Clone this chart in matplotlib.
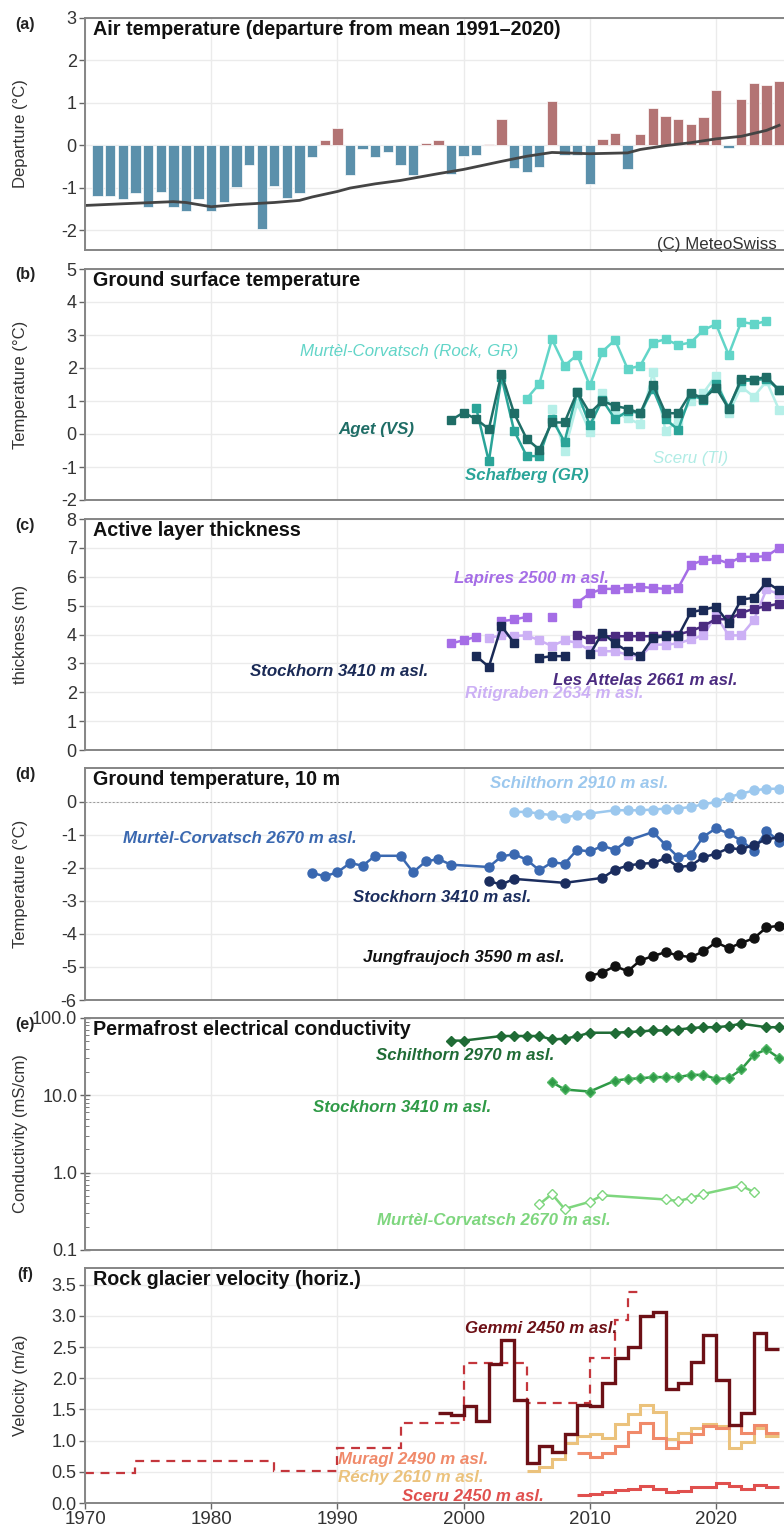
import numpy as np
import matplotlib
matplotlib.use("Agg")
import matplotlib.pyplot as plt
from matplotlib.ticker import FormatStrFormatter, LogLocator, NullFormatter

plt.rcParams['font.family'] = ['Liberation Sans', 'DejaVu Sans']
plt.rcParams['axes.unicode_minus'] = False

# ---------------- data ----------------
# (a) air temperature departure, 1971-2025
air_years = np.arange(1971, 2026)
air_dep = [-1.20, -1.20, -1.27, -1.13, -1.46, -1.10, -1.46, -1.54, -1.26, -1.54,
           -1.35, -0.99, -0.47, -1.98, -0.95, -1.24, -1.12, -0.28, 0.12, 0.41,
           -0.69, -0.09, -0.28, -0.15, -0.46, -0.69, 0.05, 0.12, -0.67, -0.26,
           -0.22, 0.02, 0.61, -0.54, -0.64, -0.52, 1.04, -0.24, -0.24, -0.91,
           0.15, 0.29, -0.56, 0.27, 0.87, 0.70, 0.62, 0.50, 0.67, 1.30,
           -0.06, 1.10, 1.47, 1.42, 1.51]
smooth_years = [1970, 1973, 1977, 1978, 1980, 1982, 1985, 1987, 1988, 1990, 1991,
                1993, 1995, 1998, 2000, 2003, 2005, 2007, 2008, 2010, 2013, 2014,
                2016, 2018, 2020, 2022, 2024, 2025]
smooth_vals = [-1.42, -1.38, -1.33, -1.35, -1.45, -1.40, -1.35, -1.30, -1.22, -1.09,
               -1.01, -0.91, -0.83, -0.67, -0.57, -0.38, -0.26, -0.17, -0.18, -0.20,
               -0.18, -0.10, -0.01, 0.06, 0.15, 0.21, 0.35, 0.47]

# (b) ground surface temperature
gst_murtel_years = np.arange(2005, 2025)
gst_murtel = [1.07, 1.52, 2.87, 2.07, 2.40, 1.47, 2.50, 2.85, 1.97, 2.07,
              2.77, 2.87, 2.70, 2.77, 3.15, 3.33, 2.40, 3.40, 3.33, 3.42]
gst_aget_years = np.arange(1999, 2026)
gst_aget = [0.42, 0.65, 0.45, 0.15, 1.83, 0.63, -0.15, -0.47, 0.35, 0.35,
            1.27, 0.63, 1.00, 0.85, 0.77, 0.63, 1.50, 0.63, 0.63, 1.25,
            1.07, 1.40, 0.77, 1.67, 1.65, 1.73, 1.33]
gst_schaf_years = np.arange(2001, 2026)
gst_schaf = [0.78, -0.83, 1.73, 0.10, -0.67, -0.67, 0.45, -0.23, 1.27, 0.27,
             1.03, 0.45, 0.70, 0.63, 1.37, 0.45, 0.13, 1.20, 1.03, 1.53,
             0.80, 1.60, 1.63, 1.67, 1.33]
gst_sceru_years = np.arange(2007, 2026)
gst_sceru = [0.77, -0.53, 0.93, 0.07, 1.25, 0.67, 0.47, 0.30, 1.87, 0.10,
             0.40, 1.00, 1.25, 1.77, 0.63, 1.43, 1.13, 1.60, 0.73]

# (c) active layer thickness (nan = no measurement)
nan = np.nan
alt_lapires_years = np.arange(1999, 2026)
alt_lapires = [3.69, 3.80, 3.92, nan, 4.46, 4.52, 4.61, nan, 4.61, nan,
               5.10, 5.42, 5.58, 5.58, 5.61, 5.65, 5.61, 5.58, 5.61, 6.42,
               6.57, 6.62, 6.46, 6.69, 6.69, 6.71, 7.00]
alt_stock_years = np.arange(2001, 2026)
alt_stock = [3.25, 2.88, 4.29, 3.71, nan, 3.19, 3.25, 3.25, nan, 3.31,
             4.06, 3.69, 3.42, 3.25, 3.88, 3.94, 3.94, 4.77, 4.86, 4.96,
             4.40, 5.21, 5.27, 5.81, 5.53]
alt_attelas_years = np.arange(2009, 2026)
alt_attelas = [3.97, 3.83, 3.94, 3.94, 3.94, 3.94, 3.94, 3.97, 4.00, 4.12,
               4.29, 4.54, 4.52, 4.75, 4.89, 4.98, 5.07]
alt_riti_years = np.arange(2002, 2026)
alt_riti = [3.88, 3.97, 3.95, 3.97, 3.80, 3.60, 3.80, 3.71, 3.45, 3.42,
            3.42, 3.30, 3.25, 3.65, 3.65, 3.69, 3.83, 3.97, 4.66, 3.97,
            3.97, 4.50, 5.56, 5.40]

# (d) ground temperature at 10 m
gt_schilt_years = [2004, 2005, 2006, 2007, 2008, 2009, 2010, 2012, 2013, 2014, 2015,
                   2016, 2017, 2018, 2019, 2020, 2021, 2022, 2023, 2024, 2025]
gt_schilt = [-0.30, -0.30, -0.35, -0.40, -0.47, -0.40, -0.35, -0.25, -0.25, -0.25, -0.23,
             -0.20, -0.20, -0.15, -0.07, 0.00, 0.15, 0.25, 0.35, 0.40, 0.40]
gt_murtel_years = [1988, 1989, 1990, 1991, 1992, 1993, 1995, 1996, 1997, 1998, 1999,
                   2002, 2003, 2004, 2005, 2006, 2007, 2008, 2009, 2010, 2011, 2012,
                   2013, 2015, 2016, 2017, 2018, 2019, 2020, 2021, 2022, 2023, 2024, 2025]
gt_murtel = [-2.15, -2.25, -2.13, -1.85, -1.93, -1.63, -1.63, -2.13, -1.80, -1.73, -1.90,
             -1.97, -1.65, -1.58, -1.75, -2.07, -1.83, -1.87, -1.45, -1.50, -1.33, -1.45,
             -1.17, -0.91, -1.30, -1.67, -1.60, -1.05, -0.80, -0.95, -1.17, -1.47, -0.87, -1.20]
gt_stock_years = [2002, 2003, 2004, 2008, 2011, 2012, 2013, 2014, 2015, 2016, 2017,
                  2018, 2019, 2020, 2021, 2022, 2023, 2024, 2025]
gt_stock = [-2.40, -2.50, -2.33, -2.45, -2.30, -2.05, -1.93, -1.87, -1.85, -1.70, -1.97,
            -1.93, -1.67, -1.57, -1.40, -1.43, -1.30, -1.13, -1.07]
gt_jungfrau_years = np.arange(2010, 2026)
gt_jungfrau = [-5.27, -5.17, -4.97, -5.13, -4.80, -4.67, -4.55, -4.65, -4.70, -4.53,
               -4.25, -4.43, -4.27, -4.13, -3.80, -3.75]

# (e) electrical conductivity (mS/cm)
ec_schilt_years = [1999, 2000, 2003, 2004, 2005, 2006, 2007, 2008, 2009, 2010, 2012,
                   2013, 2014, 2015, 2016, 2017, 2018, 2019, 2020, 2021, 2022, 2024, 2025]
ec_schilt = [51, 51, 58.5, 58.5, 58.5, 58.5, 52.8, 54, 58, 64.5, 64.5,
             65.8, 67, 69, 69, 71, 74, 76, 76, 78.7, 84.4, 76, 76]
ec_stock_years = [2007, 2008, 2010, 2012, 2013, 2014, 2015, 2016, 2017, 2018, 2019,
                  2020, 2021, 2022, 2023, 2024, 2025]
ec_stock = [14.8, 11.9, 11.2, 15.5, 16.3, 16.6, 17.2, 17.2, 17.2, 18.4, 18.4,
            16.3, 16.6, 21.6, 33.4, 39.3, 30.3]
ec_murtel_years = [2006, 2007, 2008, 2010, 2011, 2016, 2017, 2018, 2019, 2022, 2023]
ec_murtel = [0.39, 0.53, 0.34, 0.42, 0.51, 0.45, 0.43, 0.47, 0.53, 0.68, 0.56]

# (f) rock glacier velocity (m/a), annual steps
rg_dash_edges = [1970, 1974, 1985, 1990, 1995, 2000, 2005, 2010, 2012, 2013, 2014]
rg_dash = [0.48, 0.68, 0.52, 0.88, 1.28, 2.25, 1.61, 2.32, 2.93, 3.38]
rg_gemmi_start = 1998
rg_gemmi = [1.44, 1.41, 1.55, 1.31, 2.23, 2.61, 1.66, 0.64, 0.92, 0.82,
            1.10, 1.58, 1.56, 1.92, 2.33, 2.50, 3.00, 3.06, 1.83, 1.92,
            2.27, 2.69, 1.98, 1.25, 1.45, 2.72, 2.47]
rg_rechy_start = 2005
rg_rechy = [0.51, 0.57, 0.70, 0.96, 1.08, 1.10, 1.05, 1.26, 1.42, 1.58,
            1.46, 1.03, 1.13, 1.21, 1.26, 1.24, 0.89, 0.98, 1.21, 1.07]
rg_muragl_start = 2009
rg_muragl = [0.81, 0.73, 0.80, 0.91, 1.14, 1.29, 1.05, 0.89, 0.98, 1.10,
             1.23, 1.21, 1.25, 1.13, 1.25, 1.12]
rg_sceru_start = 2009
rg_sceru = [0.13, 0.14, 0.18, 0.21, 0.23, 0.27, 0.22, 0.17, 0.20, 0.25,
            0.26, 0.32, 0.28, 0.23, 0.29, 0.25]

decades = [1970, 1980, 1990, 2000, 2010, 2020]

# ---------------- figure ----------------
W, H = 784, 1526
fig = plt.figure(figsize=(W / 100, H / 100), dpi=100)

PX_YEAR = 12.62
X0 = 85
AX_W = 56 * PX_YEAR


def make_ax(top, bottom, letter, title, ylabel, xlabels=False):
    ax = fig.add_axes([X0 / W, 1 - bottom / H, AX_W / W, (bottom - top) / H])
    ax.set_xlim(1970, 2026)
    ax.set_xticks(decades)
    ax.grid(True, color='#ebebeb', lw=1.0)
    ax.set_axisbelow(True)
    for s in ax.spines.values():
        s.set_color('#858585')
        s.set_linewidth(1.4)
    ax.tick_params(axis='y', colors='#666666', labelcolor='#333333',
                   labelsize=13, length=4, width=1, pad=2)
    if xlabels:
        ax.tick_params(axis='x', colors='#666666', labelcolor='#333333',
                       labelsize=13.5, length=4, width=1, pad=2)
    else:
        ax.tick_params(axis='x', length=0, labelbottom=False)
    ax.set_ylabel(ylabel, fontsize=12, color='#333333')
    ax.yaxis.set_label_coords((28 - X0) / AX_W, 0.5)
    fig.text(25 / W, 1 - (top + 6) / H, letter, fontsize=11.5, fontweight='bold',
             ha='center', va='center', color='#222222')
    ax.text(0.012, 0.99, title, transform=ax.transAxes, fontsize=14.2,
            fontweight='bold', ha='left', va='top', color='#111111')
    return ax


def label(ax, x, y, s, color, bold=True, size=12.2):
    ax.text(x, y, s, color=color, fontsize=size, style='italic',
            fontweight='bold' if bold else 'normal', ha='left', va='center')


# (a)
ax = make_ax(18, 250, '(a)', 'Air temperature (departure from mean 1991\u20132020)',
             'Departure (\u00b0C)')
colors = ['#b37474' if v > 0 else '#5b90ab' for v in air_dep]
ax.bar(air_years, air_dep, width=0.82, color=colors, edgecolor='white', lw=0.5)
ax.plot(smooth_years, smooth_vals, color='#444444', lw=2.0)
ax.set_ylim(-2.47, 3)
ax.set_yticks([-2, -1, 0, 1, 2, 3])
ax.text(2024.8, -2.33, '(C) MeteoSwiss', fontsize=12.2, color='#333333',
        ha='right', va='center')

# (b)
ax = make_ax(269, 500, '(b)', 'Ground surface temperature', 'Temperature (\u00b0C)')
sq = dict(marker='s', markersize=5.5, lw=1.8)
ax.plot(gst_murtel_years, gst_murtel, color='#62d5c8', **sq)
ax.plot(gst_sceru_years, gst_sceru, color='#b6efe8', **sq)
ax.plot(gst_schaf_years, gst_schaf, color='#2aa498', **sq)
ax.plot(gst_aget_years, gst_aget, color='#1f6d66', **sq)
ax.set_ylim(-2, 5)
ax.set_yticks(range(-2, 6))
label(ax, 1987.0, 2.5, 'Murt\u00e8l-Corvatsch (Rock, GR)', '#62d5c8', bold=False)
label(ax, 1990.05, 0.15, 'Aget (VS)', '#1f6d66')
label(ax, 2000.1, -1.25, 'Schafberg (GR)', '#2aa498')
label(ax, 2015.0, -0.73, 'Sceru (TI)', '#b0ece5', bold=False)

# (c)
ax = make_ax(519, 750, '(c)', 'Active layer thickness', 'thickness (m)')
ax.plot(alt_riti_years, alt_riti, color='#ccb0f5', **sq)
ax.plot(alt_lapires_years, alt_lapires, color='#a56de6', **sq)
ax.plot(alt_attelas_years, alt_attelas, color='#4b2b80', **sq)
ax.plot(alt_stock_years, alt_stock, color='#1a2a56', **sq)
ax.set_ylim(0, 8)
ax.set_yticks(range(0, 9))
label(ax, 1999.2, 5.95, 'Lapires 2500 m asl.', '#a56de6')
label(ax, 1983.1, 2.73, 'Stockhorn 3410 m asl.', '#1a2a56')
label(ax, 2007.1, 2.42, 'Les Attelas 2661 m asl.', '#4b2b80')
label(ax, 2000.1, 1.97, 'Ritigraben 2634 m asl.', '#ccb0f5')

# (d)
ax = make_ax(768, 1000, '(d)', 'Ground temperature, 10 m', 'Temperature (\u00b0C)')
ci = dict(marker='o', markersize=6.5, lw=1.8)
ax.axhline(0, color='#999999', lw=0.7, ls=(0, (2, 2)))
ax.plot(gt_schilt_years, gt_schilt, color='#9cc8ee', **ci)
ax.plot(gt_murtel_years, gt_murtel, color='#3a68b0', **ci)
ax.plot(gt_stock_years, gt_stock, color='#1b2d5e', **ci)
ax.plot(gt_jungfrau_years, gt_jungfrau, color='#111111', **ci)
ax.set_ylim(-6, 1.03)
ax.set_yticks(range(-6, 1))
label(ax, 2002.1, 0.57, 'Schilthorn 2910 m asl.', '#9cc8ee')
label(ax, 1973.0, -1.11, 'Murt\u00e8l-Corvatsch 2670 m asl.', '#3a68b0')
label(ax, 1991.2, -2.88, 'Stockhorn 3410 m asl.', '#1b2d5e')
label(ax, 1992.0, -4.71, 'Jungfraujoch 3590 m asl.', '#111111')

# (e)
ax = make_ax(1018, 1250, '(e)', 'Permafrost electrical conductivity', 'Conductivity (mS/cm)')
ax.set_yscale('log')
ax.set_ylim(0.1, 100)
ax.set_yticks([0.1, 1, 10, 100])
ax.yaxis.set_major_formatter(FormatStrFormatter('%.1f'))
ax.yaxis.set_minor_locator(LogLocator(base=10, subs=np.arange(2, 10)))
ax.yaxis.set_minor_formatter(NullFormatter())
ax.tick_params(axis='y', which='minor', direction='in', length=3, colors='#666666')
ax.tick_params(axis='y', which='major', direction='inout', length=7)
di = dict(marker='D', markersize=5.5, lw=1.8)
ax.plot(ec_schilt_years, ec_schilt, color='#1f6b35', **di)
ax.plot(ec_stock_years, ec_stock, color='#2f9a47', markeredgecolor='#52b866', **di)
ax.plot(ec_murtel_years, ec_murtel, color='#7ed67e', markerfacecolor='white', **di)
label(ax, 1993.05, 33, 'Schilthorn 2970 m asl.', '#1f6b35')
label(ax, 1988.07, 6.86, 'Stockhorn 3410 m asl.', '#2f9a47')
label(ax, 1993.1, 0.244, 'Murt\u00e8l-Corvatsch 2670 m asl.', '#7ed67e')

# (f)
ax = make_ax(1268, 1503, '(f)', 'Rock glacier velocity (horiz.)', 'Velocity (m/a)',
             xlabels=True)
ax.stairs(rg_dash, rg_dash_edges, baseline=None, color='#c4363c', lw=1.6,
          ls=(0, (4, 3)))
ax.stairs(rg_rechy, np.arange(rg_rechy_start, rg_rechy_start + len(rg_rechy) + 1),
          baseline=None, color='#ebc27c', lw=2.2)
ax.stairs(rg_muragl, np.arange(rg_muragl_start, rg_muragl_start + len(rg_muragl) + 1),
          baseline=None, color='#f08a6a', lw=2.2)
ax.stairs(rg_sceru, np.arange(rg_sceru_start, rg_sceru_start + len(rg_sceru) + 1),
          baseline=None, color='#e0504e', lw=2.2)
ax.stairs(rg_gemmi, np.arange(rg_gemmi_start, rg_gemmi_start + len(rg_gemmi) + 1),
          baseline=None, color='#6d1016', lw=2.4)
ax.set_ylim(0, 3.77)
ax.set_yticks(np.arange(0, 3.6, 0.5))
ax.yaxis.set_major_formatter(FormatStrFormatter('%.1f'))
label(ax, 2000.1, 2.80, 'Gemmi 2450 m asl.', '#6d1016')
label(ax, 1990.05, 0.70, 'Muragl 2490 m asl.', '#f08a6a')
label(ax, 1990.05, 0.415, 'R\u00e9chy 2610 m asl.', '#ebc27c')
label(ax, 1995.1, 0.11, 'Sceru 2450 m asl.', '#e0504e')

fig.savefig('out.png', dpi=100)
